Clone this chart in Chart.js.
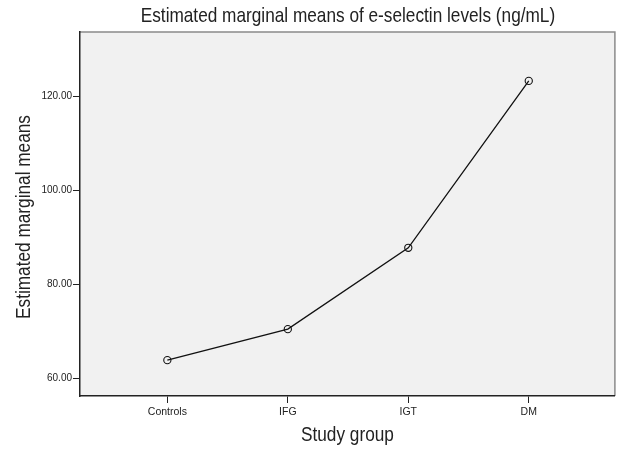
<!DOCTYPE html>
<html>
<head>
<meta charset="utf-8">
<script src="https://cdn.jsdelivr.net/npm/chart.js@4"></script>
<style>
html,body{margin:0;padding:0;background:#fff;}
#wrap{width:620px;height:449px;}
</style>
</head>
<body>
<div id="wrap"><canvas id="c" width="620" height="449"></canvas></div>
<script>
const categories = ["Controls", "IFG", "IGT", "DM"];
const meanValues = [63.9, 70.5, 87.8, 123.3];
const yTickValues = [60, 80, 100, 120];
const chartTitle = "Estimated marginal means of e-selectin levels (ng/mL)";
const xTitle = "Study group";
const yTitle = "Estimated marginal means";

const REG = "'Liberation Sans', Arial, sans-serif";
const NARROW_SCALE = 0.82;

function narrowText(ctx, text, x, y, size, rot) {
  ctx.save();
  ctx.translate(x, y);
  if (rot) ctx.rotate(rot);
  ctx.scale(NARROW_SCALE, 1);
  ctx.font = size + "px " + REG;
  ctx.fillStyle = '#222';
  ctx.textAlign = 'center';
  ctx.textBaseline = 'alphabetic';
  ctx.fillText(text, 0, 0);
  ctx.restore();
}

const plotDecor = {
  id: 'plotDecor',
  beforeDraw(chart) {
    const {ctx, chartArea: a} = chart;
    ctx.save();
    ctx.fillStyle = '#f1f1f1';
    ctx.fillRect(a.left, a.top, a.right - a.left, a.bottom - a.top);
    ctx.strokeStyle = '#8a8a8a';
    ctx.lineWidth = 1.5;
    ctx.beginPath();
    ctx.moveTo(a.left, a.top);
    ctx.lineTo(a.right, a.top);
    ctx.lineTo(a.right, a.bottom);
    ctx.stroke();
    ctx.restore();
  },
  afterDraw(chart) {
    const {ctx, chartArea: a} = chart;
    const cx = (a.left + a.right) / 2;
    const cy = (a.top + a.bottom) / 2;
    narrowText(ctx, chartTitle, cx + 0.5, a.top - 10.3, 21, 0);
    narrowText(ctx, xTitle, cx, a.bottom + 44.7, 21, 0);
    narrowText(ctx, yTitle, a.left - 50.3, cy + 3, 21, -Math.PI / 2);
  }
};

new Chart(document.getElementById('c'), {
  type: 'line',
  data: {
    datasets: [{
      data: categories.map((c, i) => ({x: i, y: meanValues[i]})),
      borderColor: '#111',
      borderWidth: 1.3,
      pointRadius: 3.6,
      pointBorderWidth: 1.1,
      pointBorderColor: '#111',
      pointBackgroundColor: 'rgba(0,0,0,0)',
      tension: 0,
      fill: false
    }]
  },
  options: {
    responsive: false,
    animation: false,
    events: [],
    layout: {padding: {top: 32, right: 1, bottom: 0, left: 0}},
    plugins: {
      legend: {display: false},
      tooltip: {enabled: false},
      title: {display: false, text: chartTitle}
    },
    scales: {
      x: {
        type: 'linear',
        min: -0.725,
        max: 3.715,
        afterFit(s) { s.height = 53; },
        afterBuildTicks(s) { s.ticks = categories.map((c, i) => ({value: i})); },
        ticks: {
          callback: (v) => categories[v],
          color: '#222',
          font: {family: REG, size: 10.5},
          padding: 2.5,
          maxRotation: 0,
          autoSkip: false
        },
        grid: {display: true, drawOnChartArea: false, drawTicks: true, tickLength: 7, tickColor: '#222', tickWidth: 1},
        border: {display: true, color: '#222', width: 1.5},
        title: {display: false, text: xTitle}
      },
      y: {
        type: 'linear',
        min: 56.28,
        max: 133.7,
        afterFit(s) { s.width = 80; },
        afterBuildTicks(s) { s.ticks = yTickValues.map(v => ({value: v})); },
        ticks: {
          callback: (v) => Number(v).toFixed(2),
          color: '#222',
          font: {family: REG, size: 10},
          padding: 1
        },
        grid: {display: true, drawOnChartArea: false, drawTicks: true, tickLength: 7, tickColor: '#222', tickWidth: 1},
        border: {display: true, color: '#222', width: 1.5},
        title: {display: false, text: yTitle}
      }
    }
  },
  plugins: [plotDecor]
});
</script>
</body>
</html>
